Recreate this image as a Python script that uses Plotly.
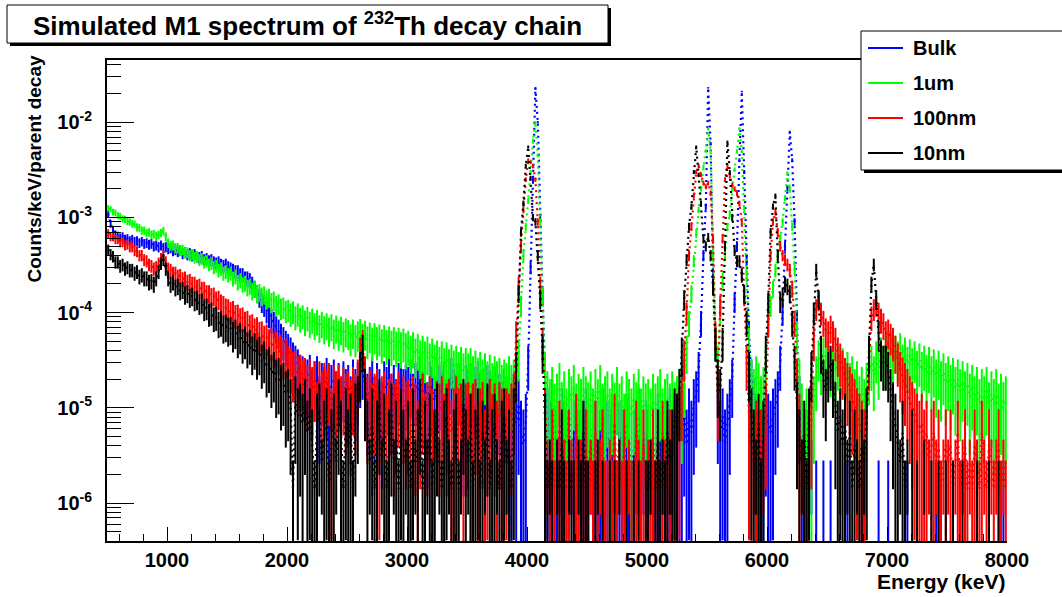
import numpy as np
import plotly.graph_objects as go

# ---------------- data (counts / keV / parent decay), 20 keV bins -------------
E_MIN, E_MAX, BIN_W = 500, 8000, 20
energy = np.arange(E_MIN + BIN_W / 2, E_MAX, BIN_W)   # bin centres, keV

series_names = ["Bulk", "1um", "100nm", "10nm"]
series_colors = ["#0000ff", "#00ff00", "#ff0000", "#000000"]

bulk = [
    1.1e-3, 8.6e-4, 7.4e-4, 6.6e-4, 6.4e-4, 6.1e-4, 6.3e-4, 5.9e-4, 6.0e-4, 5.7e-4, 5.9e-4, 5.6e-4, 5.7e-4, 5.4e-4, 5.6e-4, 5.3e-4, 5.4e-4, 5.2e-4, 5.3e-4, 5.0e-4, 5.1e-4, 4.9e-4, 5.1e-4, 4.8e-4, 4.9e-4,
    4.7e-4, 4.8e-4, 4.5e-4, 4.6e-4, 4.4e-4, 4.5e-4, 4.2e-4, 4.3e-4, 4.1e-4, 4.2e-4, 4.0e-4, 4.1e-4, 3.9e-4, 3.8e-4, 3.9e-4, 3.6e-4, 3.7e-4, 3.5e-4, 3.6e-4, 3.4e-4, 3.3e-4, 3.4e-4, 3.2e-4, 3.1e-4, 3.2e-4,
    3.0e-4, 2.9e-4, 2.8e-4, 2.7e-4, 2.7e-4, 2.5e-4, 2.5e-4, 2.3e-4, 2.3e-4, 2.2e-4, 2.0e-4, 1.8e-4, 1.6e-4, 1.45e-4, 1.3e-4, 1.2e-4, 1.05e-4, 9.5e-5, 8.5e-5, 7.8e-5, 7.0e-5, 6.3e-5, 5.6e-5, 5.1e-5, 4.6e-5,
    4.2e-5, 3.8e-5, 3.3e-5, 3.0e-5, 2.7e-5, 2.3e-5, 2.2e-5, 1.6e-5, 2.0e-5, 2.3e-5, 1.5e-5, 1.9e-5, 2.2e-5, 1.2e-5, 1.8e-5, 1.6e-5, 2.1e-5, 9.6e-6, 1.7e-5, 2.0e-5, 1.4e-5, 1.8e-5, 1.1e-5, 1.9e-5, 1.5e-5,
    1.7e-5, 1.2e-5, 2.0e-5, 1.5e-5, 1.8e-5, 2.3e-5, 2.6e-5, 1.9e-5, 1.3e-5, 1.6e-5, 2.1e-5, 1.2e-5, 1.8e-5, 1.5e-5, 1.0e-5, 1.9e-5, 1.6e-5, 2.1e-5, 1.3e-5, 1.7e-5, 1.1e-5, 1.8e-5, 2.2e-5, 1.5e-5, 1.7e-5,
    1.6e-5, 2.0e-5, 1.3e-5, 1.8e-5, 1.5e-5, 2.2e-5, 1.4e-5, 1.7e-5, 1.0e-5, 1.9e-5, 1.6e-5, 1.2e-5, 2.0e-5, 1.7e-5, 1.4e-5, 1.8e-5, 1.1e-5, 1.6e-5, 2.1e-5, 1.5e-5, 1.3e-5, 1.8e-5, 1.6e-5, 9.6e-6, 1.7e-5,
    1.5e-5, 1.8e-5, 1.2e-5, 1.6e-5, 1.9e-5, 1.3e-5, 1.5e-5, 1.0e-5, 1.7e-5, 1.4e-5, 1.2e-5, 1.6e-5, 1.8e-5, 1.3e-5, 1.0e-5, 1.5e-5, 1.2e-5, 1.4e-5, 8.2e-6, 1.3e-5, 6.9e-6, 1.1e-5, 5.5e-6, 4.1e-6, 6.9e-6,
    3.0e-5, 3.0e-4, 2.5e-3, 2.3e-2, 1.0e-2, 1.0e-3, 1.5e-4, 2.5e-5, 8.2e-6, 5.5e-6, 1.1e-5, 4.1e-6, 6.9e-6, 2.7e-6, 8.2e-6, 5.5e-6, 4.1e-6, 9.6e-6, 2.7e-6, 5.5e-6, 6.9e-6, 4.1e-6, 1.4e-6, 5.5e-6, 8.2e-6,
    4.1e-6, 2.7e-6, 6.9e-6, 5.5e-6, 1.4e-6, 4.1e-6, 8.2e-6, 2.7e-6, 5.5e-6, 4.1e-6, 6.9e-6, 2.7e-6, 1.4e-6, 5.5e-6, 4.1e-6, 2.7e-6, 6.9e-6, 5.5e-6, 1.4e-6, 4.1e-6, 2.7e-6, 8.2e-6, 4.1e-6, 2.7e-6, 5.5e-6,
    4.1e-6, 2.7e-6, 5.5e-6, 1.4e-6, 6.9e-6, 4.1e-6, 2.7e-6, 5.5e-6, 4.1e-6, 8.2e-6, 2.7e-6, 5.5e-6, 4.1e-6, 6.9e-6, 5.5e-6, 9.6e-6, 4.1e-6, 8.2e-6, 5.5e-6, 1.1e-5, 1.4e-5, 2.5e-5, 8.0e-5, 4.0e-4, 1.3e-3,
    2.3e-2, 6.0e-3, 2.5e-4, 5.0e-5, 1.2e-5, 5.5e-6, 8.2e-6, 4.1e-6, 6.9e-6, 1.1e-5, 2.0e-5, 1.3e-4, 5.0e-4, 4.0e-3, 2.1e-2, 3.0e-3, 3.6e-4, 6.0e-5, 2.0e-5, 1.1e-5, 6.9e-6, 4.1e-6, 8.2e-6, 5.5e-6, 9.6e-6,
    6.9e-6, 5.5e-6, 8.2e-6, 1.1e-5, 1.4e-5, 3.0e-5, 1.0e-4, 5.0e-4, 2.0e-3, 7.9e-3, 4.0e-3, 9.0e-4, 8.0e-5, 1.2e-5, 5.5e-6, 2.7e-6, 4.1e-6, 1.4e-6, 2.7e-6, 0, 1.4e-6, 0, 0, 1.4e-6, 0,
    0, 1.4e-6, 0, 0, 0, 2.7e-6, 0, 0, 1.4e-6, 0, 0, 0, 0, 0, 0, 1.4e-6, 0, 0, 0, 0, 0, 1.4e-6, 0, 0, 0,
    1.4e-6, 0, 0, 0, 0, 0, 0, 0, 1.4e-6, 0, 0, 0, 0, 0, 0, 0, 0, 0, 0, 0, 1.4e-6, 0, 0, 0, 0,
    0, 0, 0, 0, 0, 1.4e-6, 0, 0, 0, 0, 0, 0, 1.4e-6, 0, 0, 0, 0, 0, 0, 0, 0, 0, 0, 1.4e-6, 0,
]

um1 = [
    1.25e-3, 1.22e-3, 1.14e-3, 1.12e-3, 1.05e-3, 1.03e-3, 9.7e-4, 9.6e-4, 9.1e-4, 9.0e-4, 8.6e-4, 8.5e-4, 7.9e-4, 7.8e-4, 7.3e-4, 7.3e-4, 6.9e-4, 7.0e-4, 6.6e-4, 6.7e-4, 6.4e-4, 6.6e-4, 6.9e-4, 7.2e-4, 6.3e-4,
    5.4e-4, 5.1e-4, 5.1e-4, 4.8e-4, 4.8e-4, 4.5e-4, 4.6e-4, 4.3e-4, 4.3e-4, 4.0e-4, 4.1e-4, 3.8e-4, 3.9e-4, 3.6e-4, 3.7e-4, 3.4e-4, 3.5e-4, 3.2e-4, 3.3e-4, 3.0e-4, 3.1e-4, 2.8e-4, 2.9e-4, 2.6e-4, 2.7e-4,
    2.5e-4, 2.6e-4, 2.3e-4, 2.4e-4, 2.1e-4, 2.2e-4, 2.0e-4, 2.05e-4, 1.85e-4, 1.9e-4, 1.7e-4, 1.8e-4, 1.6e-4, 1.65e-4, 1.5e-4, 1.55e-4, 1.4e-4, 1.45e-4, 1.3e-4, 1.35e-4, 1.2e-4, 1.25e-4, 1.12e-4, 1.15e-4, 1.05e-4,
    1.08e-4, 9.8e-5, 1.03e-4, 9.1e-5, 9.8e-5, 8.7e-5, 9.3e-5, 8.1e-5, 8.9e-5, 7.8e-5, 8.5e-5, 7.5e-5, 8.2e-5, 7.1e-5, 7.8e-5, 6.9e-5, 7.5e-5, 6.6e-5, 7.3e-5, 6.3e-5, 7.0e-5, 6.1e-5, 6.8e-5, 5.9e-5, 6.5e-5,
    6.2e-5, 5.5e-5, 6.3e-5, 5.4e-5, 6.0e-5, 6.4e-5, 5.6e-5, 6.1e-5, 5.2e-5, 5.8e-5, 5.0e-5, 5.7e-5, 5.1e-5, 5.5e-5, 4.8e-5, 5.4e-5, 4.7e-5, 5.2e-5, 4.6e-5, 5.1e-5, 4.5e-5, 5.0e-5, 4.4e-5, 4.9e-5, 4.3e-5,
    4.6e-5, 4.0e-5, 4.4e-5, 3.7e-5, 4.2e-5, 3.5e-5, 4.0e-5, 3.4e-5, 3.9e-5, 3.2e-5, 3.7e-5, 3.1e-5, 3.5e-5, 2.9e-5, 3.4e-5, 2.8e-5, 3.3e-5, 2.7e-5, 3.1e-5, 2.6e-5, 3.0e-5, 2.5e-5, 2.9e-5, 2.4e-5, 2.8e-5,
    2.4e-5, 2.8e-5, 2.2e-5, 2.6e-5, 2.1e-5, 2.5e-5, 2.0e-5, 2.4e-5, 1.9e-5, 2.3e-5, 1.8e-5, 2.2e-5, 1.9e-5, 2.1e-5, 1.7e-5, 2.0e-5, 1.8e-5, 2.2e-5, 1.7e-5, 2.0e-5, 2.5e-5, 3.5e-5, 1.2e-4, 4.0e-4, 8.0e-4,
    1.5e-3, 3.0e-3, 6.5e-3, 1.0e-2, 4.5e-3, 9.0e-4, 1.5e-4, 2.5e-5, 1.4e-5, 1.1e-5, 1.6e-5, 9.6e-6, 1.3e-5, 1.8e-5, 1.0e-5, 1.4e-5, 8.2e-6, 1.5e-5, 1.2e-5, 1.7e-5, 9.6e-6, 1.3e-5, 1.1e-5, 1.6e-5, 1.2e-5,
    1.0e-5, 1.4e-5, 8.2e-6, 1.5e-5, 1.1e-5, 1.7e-5, 9.6e-6, 1.2e-5, 1.4e-5, 8.2e-6, 1.3e-5, 1.0e-5, 1.6e-5, 9.6e-6, 1.2e-5, 6.9e-6, 1.4e-5, 1.1e-5, 8.2e-6, 1.3e-5, 1.0e-5, 1.5e-5, 8.2e-6, 1.2e-5, 9.6e-6,
    1.1e-5, 8.2e-6, 1.3e-5, 9.6e-6, 1.2e-5, 1.5e-5, 8.2e-6, 1.1e-5, 1.3e-5, 9.6e-6, 1.4e-5, 1.0e-5, 1.2e-5, 1.5e-5, 1.2e-5, 2.0e-5, 4.0e-5, 8.0e-5, 1.6e-4, 3.5e-4, 6.8e-4, 1.2e-3, 2.0e-3, 3.4e-3, 5.0e-3,
    8.6e-3, 5.0e-3, 4.0e-4, 5.0e-5, 3.0e-5, 1.0e-4, 2.2e-4, 4.0e-4, 8.0e-4, 1.1e-3, 2.0e-3, 3.2e-3, 5.0e-3, 8.6e-3, 5.0e-3, 1.2e-3, 2.5e-4, 5.0e-5, 2.0e-5, 1.5e-5, 2.2e-5, 1.8e-5, 1.2e-5, 1.6e-5, 3.0e-5,
    8.0e-5, 1.2e-4, 1.8e-4, 2.8e-4, 4.0e-4, 6.0e-4, 9.0e-4, 1.6e-3, 2.9e-3, 2.0e-3, 8.0e-4, 3.0e-4, 6.0e-5, 2.0e-5, 9.6e-6, 5.5e-6, 8.2e-6, 4.1e-6, 6.9e-6, 1.2e-5, 2.2e-5, 3.5e-5, 2.8e-5, 3.8e-5, 3.0e-5,
    3.5e-5, 2.7e-5, 3.2e-5, 2.4e-5, 3.0e-5, 2.2e-5, 2.8e-5, 2.0e-5, 2.5e-5, 1.8e-5, 2.2e-5, 1.5e-5, 1.9e-5, 1.2e-5, 1.6e-5, 1.1e-5, 1.8e-5, 2.4e-5, 3.0e-5, 2.2e-5, 3.4e-5, 2.6e-5, 3.8e-5, 3.0e-5, 4.2e-5,
    3.5e-5, 4.4e-5, 3.2e-5, 4.0e-5, 3.4e-5, 4.3e-5, 3.1e-5, 3.8e-5, 2.9e-5, 3.6e-5, 2.8e-5, 3.4e-5, 2.6e-5, 3.2e-5, 2.5e-5, 3.0e-5, 2.3e-5, 2.9e-5, 2.2e-5, 2.7e-5, 2.0e-5, 2.6e-5, 1.9e-5, 2.4e-5, 1.8e-5,
    2.2e-5, 1.7e-5, 2.1e-5, 1.6e-5, 2.0e-5, 1.5e-5, 1.9e-5, 1.4e-5, 1.8e-5, 1.3e-5, 1.7e-5, 1.2e-5, 1.6e-5, 1.1e-5, 1.5e-5, 1.2e-5, 1.6e-5, 1.0e-5, 1.4e-5, 1.1e-5, 1.5e-5, 9.6e-6, 1.3e-5, 1.0e-5, 1.2e-5,
]

nm100 = [
    6.8e-4, 6.3e-4, 6.3e-4, 5.9e-4, 5.9e-4, 5.5e-4, 5.5e-4, 5.1e-4, 5.2e-4, 4.9e-4, 4.9e-4, 4.5e-4, 4.4e-4, 4.0e-4, 4.0e-4, 3.6e-4, 3.5e-4, 3.2e-4, 3.1e-4, 2.9e-4, 3.0e-4, 3.3e-4, 3.7e-4, 4.0e-4, 3.4e-4,
    2.9e-4, 2.8e-4, 2.6e-4, 2.6e-4, 2.4e-4, 2.45e-4, 2.25e-4, 2.3e-4, 2.1e-4, 2.15e-4, 2.0e-4, 2.0e-4, 1.85e-4, 1.9e-4, 1.75e-4, 1.75e-4, 1.6e-4, 1.6e-4, 1.48e-4, 1.5e-4, 1.35e-4, 1.38e-4, 1.25e-4, 1.2e-4, 1.12e-4,
    1.1e-4, 1.02e-4, 1.05e-4, 9.4e-5, 9.5e-5, 8.6e-5, 8.8e-5, 7.8e-5, 8.0e-5, 7.1e-5, 7.3e-5, 6.5e-5, 6.7e-5, 5.9e-5, 6.0e-5, 5.3e-5, 5.5e-5, 4.8e-5, 5.0e-5, 4.4e-5, 4.5e-5, 3.9e-5, 4.1e-5, 3.6e-5, 3.7e-5,
    3.0e-5, 2.9e-5, 2.5e-5, 2.6e-5, 2.2e-5, 2.3e-5, 2.0e-5, 2.1e-5, 1.7e-5, 2.0e-5, 1.6e-5, 1.9e-5, 1.0e-5, 1.9e-5, 1.4e-5, 1.8e-5, 1.5e-5, 1.8e-5, 8.2e-6, 1.7e-5, 1.4e-5, 1.7e-5, 1.2e-5, 1.6e-5, 1.3e-5,
    1.4e-5, 1.1e-5, 1.6e-5, 1.3e-5, 2.0e-5, 3.8e-5, 4.7e-5, 2.2e-5, 1.2e-5, 1.5e-5, 9.6e-6, 1.3e-5, 1.5e-5, 8.2e-6, 1.2e-5, 1.4e-5, 6.9e-6, 1.1e-5, 1.3e-5, 9.6e-6, 1.1e-5, 1.4e-5, 8.2e-6, 1.2e-5, 1.0e-5,
    1.1e-5, 8.2e-6, 1.2e-5, 9.6e-6, 5.5e-6, 1.0e-5, 1.3e-5, 6.9e-6, 9.6e-6, 1.2e-5, 8.2e-6, 4.1e-6, 1.0e-5, 9.6e-6, 1.2e-5, 6.9e-6, 9.6e-6, 1.1e-5, 5.5e-6, 8.2e-6, 1.2e-5, 8.2e-6, 9.6e-6, 4.1e-6, 9.6e-6,
    1.0e-5, 6.9e-6, 9.6e-6, 1.1e-5, 5.5e-6, 8.2e-6, 1.0e-5, 4.1e-6, 8.2e-6, 1.1e-5, 6.9e-6, 9.6e-6, 5.5e-6, 1.0e-5, 8.2e-6, 4.1e-6, 8.2e-6, 6.9e-6, 9.6e-6, 1.3e-5, 6.0e-5, 2.0e-4, 5.0e-4, 1.2e-3, 2.5e-3,
    4.0e-3, 3.8e-3, 3.5e-3, 2.5e-3, 9.0e-4, 2.0e-4, 5.0e-5, 8.2e-6, 2.7e-6, 1.4e-6, 4.1e-6, 1.4e-6, 2.7e-6, 5.5e-6, 1.4e-6, 2.7e-6, 1.4e-6, 4.1e-6, 2.7e-6, 1.4e-6, 6.9e-6, 1.4e-6, 2.7e-6, 1.4e-6, 4.1e-6,
    1.4e-6, 2.7e-6, 1.4e-6, 5.5e-6, 1.4e-6, 2.7e-6, 4.1e-6, 1.4e-6, 1.4e-6, 2.7e-6, 1.4e-6, 6.9e-6, 1.4e-6, 2.7e-6, 1.4e-6, 4.1e-6, 1.4e-6, 2.7e-6, 1.4e-6, 1.4e-6, 5.5e-6, 2.7e-6, 1.4e-6, 4.1e-6, 1.4e-6,
    2.7e-6, 1.4e-6, 4.1e-6, 1.4e-6, 2.7e-6, 1.4e-6, 5.5e-6, 2.7e-6, 1.4e-6, 4.1e-6, 2.7e-6, 6.9e-6, 4.1e-6, 8.2e-6, 1.5e-5, 3.5e-5, 1.0e-4, 4.0e-4, 8.0e-4, 1.7e-3, 3.0e-3, 3.5e-3, 2.8e-3, 2.3e-3, 2.1e-3,
    2.3e-3, 1.8e-3, 6.0e-4, 6.0e-5, 1.5e-5, 1.2e-4, 6.0e-4, 2.5e-3, 3.5e-3, 2.7e-3, 2.2e-3, 2.0e-3, 1.8e-3, 1.4e-3, 9.0e-4, 1.5e-4, 3.0e-5, 8.2e-6, 4.1e-6, 2.7e-6, 5.5e-6, 1.4e-6, 4.1e-6, 2.7e-6, 1.0e-5,
    8.0e-5, 4.0e-4, 9.0e-4, 1.15e-3, 7.0e-4, 5.0e-4, 4.0e-4, 3.6e-4, 3.2e-4, 2.8e-4, 1.8e-4, 8.0e-5, 2.0e-5, 6.9e-6, 2.7e-6, 4.1e-6, 1.4e-6, 5.5e-6, 1.0e-5, 5.0e-5, 1.1e-4, 1.35e-4, 1.0e-4, 8.0e-5, 6.5e-5,
    6.0e-5, 7.0e-5, 6.0e-5, 5.0e-5, 3.8e-5, 3.2e-5, 2.6e-5, 2.1e-5, 1.8e-5, 1.6e-5, 1.3e-5, 1.1e-5, 8.2e-6, 6.9e-6, 5.5e-6, 4.1e-6, 8.2e-6, 3.0e-5, 9.0e-5, 1.1e-4, 1.2e-4, 1.0e-4, 8.5e-5, 7.5e-5, 6.0e-5,
    6.3e-5, 5.6e-5, 5.0e-5, 4.0e-5, 3.2e-5, 2.5e-5, 2.1e-5, 1.8e-5, 1.5e-5, 1.2e-5, 1.0e-5, 8.2e-6, 6.9e-6, 5.5e-6, 6.9e-6, 4.1e-6, 5.5e-6, 2.7e-6, 4.1e-6, 5.5e-6, 2.7e-6, 4.1e-6, 1.4e-6, 2.7e-6, 4.1e-6,
    2.7e-6, 4.1e-6, 1.4e-6, 2.7e-6, 5.5e-6, 1.4e-6, 2.7e-6, 4.1e-6, 1.4e-6, 2.7e-6, 1.4e-6, 4.1e-6, 2.7e-6, 1.4e-6, 5.5e-6, 2.7e-6, 1.4e-6, 4.1e-6, 2.7e-6, 1.4e-6, 2.7e-6, 4.1e-6, 1.4e-6, 2.7e-6, 1.4e-6,
]

nm10 = [
    4.6e-4, 4.1e-4, 3.9e-4, 3.4e-4, 3.4e-4, 3.1e-4, 3.2e-4, 2.9e-4, 3.0e-4, 2.8e-4, 2.8e-4, 2.6e-4, 2.7e-4, 2.4e-4, 2.5e-4, 2.3e-4, 2.3e-4, 2.1e-4, 2.15e-4, 2.0e-4, 2.3e-4, 2.7e-4, 3.3e-4, 3.6e-4, 2.9e-4,
    2.3e-4, 2.0e-4, 2.1e-4, 1.85e-4, 1.9e-4, 1.7e-4, 1.75e-4, 1.55e-4, 1.6e-4, 1.45e-4, 1.5e-4, 1.35e-4, 1.38e-4, 1.25e-4, 1.28e-4, 1.1e-4, 1.12e-4, 9.8e-5, 1.0e-4, 8.8e-5, 9.0e-5, 7.8e-5, 8.0e-5, 7.0e-5, 7.2e-5,
    6.6e-5, 6.8e-5, 5.9e-5, 6.3e-5, 5.3e-5, 5.7e-5, 4.8e-5, 5.2e-5, 4.4e-5, 4.7e-5, 3.9e-5, 4.3e-5, 3.6e-5, 3.9e-5, 3.1e-5, 3.4e-5, 2.7e-5, 2.9e-5, 2.3e-5, 2.5e-5, 2.0e-5, 2.1e-5, 1.7e-5, 1.8e-5, 1.4e-5,
    1.5e-5, 1.1e-5, 1.4e-6, 1.2e-5, 8.2e-6, 9.6e-6, 6.9e-6, 1.1e-5, 5.5e-6, 8.2e-6, 4.1e-6, 1.4e-6, 6.9e-6, 9.6e-6, 2.7e-6, 5.5e-6, 8.2e-6, 1.4e-6, 4.1e-6, 6.9e-6, 2.7e-6, 1.1e-5, 5.5e-6, 1.4e-6, 8.2e-6,
    4.1e-6, 6.9e-6, 1.4e-6, 9.6e-6, 1.2e-5, 2.5e-5, 4.1e-5, 1.5e-5, 5.5e-6, 2.7e-6, 8.2e-6, 1.4e-6, 5.5e-6, 1.1e-5, 2.7e-6, 6.9e-6, 1.4e-6, 4.1e-6, 9.6e-6, 2.7e-6, 5.5e-6, 1.4e-6, 8.2e-6, 4.1e-6, 2.7e-6,
    5.5e-6, 1.4e-6, 8.2e-6, 2.7e-6, 4.1e-6, 1.1e-5, 1.4e-6, 5.5e-6, 2.7e-6, 6.9e-6, 1.4e-6, 4.1e-6, 9.6e-6, 2.7e-6, 1.4e-6, 5.5e-6, 8.2e-6, 2.7e-6, 1.4e-6, 4.1e-6, 6.9e-6, 1.4e-6, 2.7e-6, 1.1e-5, 4.1e-6,
    2.7e-6, 6.9e-6, 1.4e-6, 4.1e-6, 8.2e-6, 1.4e-6, 5.5e-6, 2.7e-6, 9.6e-6, 1.4e-6, 4.1e-6, 6.9e-6, 2.7e-6, 1.4e-6, 5.5e-6, 8.2e-6, 2.7e-6, 4.1e-6, 1.4e-6, 8.2e-6, 2.5e-5, 1.6e-4, 7.0e-4, 1.4e-3, 3.5e-3,
    5.5e-3, 2.6e-3, 1.0e-3, 9.0e-4, 4.0e-4, 1.4e-4, 4.0e-5, 6.9e-6, 1.4e-6, 2.7e-6, 1.4e-6, 0, 2.7e-6, 1.4e-6, 4.1e-6, 1.4e-6, 0, 2.7e-6, 1.4e-6, 1.4e-6, 0, 2.7e-6, 1.4e-6, 5.5e-6, 1.4e-6,
    1.4e-6, 0, 0, 1.4e-6, 2.7e-6, 0, 1.4e-6, 0, 0, 1.4e-6, 0, 1.4e-6, 0, 2.7e-6, 0, 0, 1.4e-6, 0, 0, 1.4e-6, 0, 1.4e-6, 0, 0, 1.4e-6,
    1.4e-6, 2.7e-6, 0, 1.4e-6, 4.1e-6, 1.4e-6, 2.7e-6, 1.4e-6, 5.5e-6, 2.7e-6, 4.1e-6, 8.2e-6, 6.9e-6, 1.5e-5, 3.8e-5, 1.4e-4, 3.6e-4, 8.0e-4, 1.3e-3, 3.0e-3, 5.5e-3, 2.8e-3, 1.4e-3, 6.0e-4, 5.0e-4,
    6.2e-4, 4.0e-4, 1.9e-4, 5.0e-5, 2.0e-5, 1.5e-5, 5.0e-5, 5.0e-4, 6.2e-3, 3.0e-3, 1.0e-3, 4.5e-4, 3.5e-4, 3.5e-4, 2.5e-4, 1.6e-4, 8.0e-5, 2.5e-5, 8.2e-6, 4.1e-6, 2.7e-6, 6.9e-6, 1.4e-6, 5.5e-6, 4.0e-5,
    1.3e-4, 7.0e-4, 1.3e-3, 1.67e-3, 4.0e-4, 1.3e-4, 1.5e-4, 2.0e-4, 1.9e-4, 1.6e-4, 8.0e-5, 3.0e-5, 1.0e-5, 4.1e-6, 2.7e-6, 5.5e-6, 1.4e-6, 8.2e-6, 2.5e-5, 1.0e-4, 2.8e-4, 1.4e-4, 4.0e-5, 2.0e-5, 1.5e-5,
    2.5e-5, 3.0e-5, 2.0e-5, 1.0e-5, 5.5e-6, 8.2e-6, 4.1e-6, 6.9e-6, 2.7e-6, 5.5e-6, 1.4e-6, 4.1e-6, 2.7e-6, 1.4e-6, 4.1e-6, 2.7e-6, 8.2e-6, 4.0e-5, 2.0e-4, 3.2e-4, 1.4e-4, 6.0e-5, 3.5e-5, 3.0e-5, 3.0e-5,
    2.5e-5, 1.5e-5, 1.0e-5, 6.9e-6, 4.1e-6, 2.7e-6, 5.5e-6, 1.4e-6, 2.7e-6, 0, 4.1e-6, 0, 1.4e-6, 0, 0, 2.7e-6, 0, 0, 1.4e-6, 0, 0, 1.4e-6, 0, 0, 1.4e-6,
    0, 0, 1.4e-6, 0, 0, 0, 1.4e-6, 0, 0, 0, 0, 0, 1.4e-6, 0, 0, 0, 0, 1.4e-6, 0, 0, 0, 1.4e-6, 0, 0, 0,
]

series_values = [bulk, um1, nm100, nm10]
ONE_COUNT = 1.4e-6      # value of a single count in one bin
SPREAD = 2.3            # visual spread of the fine-binned histogram around each 20 keV value

x_ticks = [1000, 2000, 3000, 4000, 5000, 6000, 7000, 8000]
y_ticks = [1e-6, 1e-5, 1e-4, 1e-3, 1e-2]
y_tick_text = ["10<sup>-6</sup>", "10<sup>-5</sup>", "10<sup>-4</sup>", "10<sup>-3</sup>", "10<sup>-2</sup>"]

# ---------------- geometry helpers (pixel -> paper) ---------------------------
W, H = 1062, 597
L, R, T, B = 107, 1007, 60, 541
def px(x):
    return (x - L) / (R - L)
def py(y):
    return (B - y) / (B - T)

FONT = "Liberation Sans, Arial, Helvetica, sans-serif"

fig = go.Figure()
for name, color, vals in zip(series_names, series_colors, series_values):
    assert len(vals) == len(energy), (name, len(vals))
    xs, ys = [], []
    for e, v in zip(energy, vals):
        if v <= 0:
            continue
        k = 1.0 if v < 2.5 * ONE_COUNT else SPREAD
        err = k * (v * ONE_COUNT) ** 0.5
        lo = v - err
        if lo <= 1e-9:
            lo = 1e-9
        xs += [e, e, None]
        ys += [lo, v + err, None]
    fig.add_trace(go.Scatter(x=xs, y=ys, mode="lines", line=dict(color=color, width=2.0),
                             hoverinfo="skip", showlegend=False))
    fig.add_trace(go.Scatter(x=energy, y=[v if v > 0 else None for v in vals], mode="lines",
                             line=dict(color=color, width=2.2, dash="2px,4px"),
                             name=name, showlegend=False))

minor_x = [v for v in range(600, 8000, 200) if v % 1000 != 0]
minor_y = [m * 10.0 ** d for d in range(-7, -1) for m in range(2, 10)]

fig.update_layout(
    width=W, height=H,
    margin=dict(l=L, r=W - R, t=T, b=H - B),
    paper_bgcolor="white", plot_bgcolor="white",
    showlegend=False,
    font=dict(family=FONT, color="black"),
)
fig.update_xaxes(
    range=[E_MIN, E_MAX], showgrid=False, zeroline=False,
    showline=True, linecolor="black", linewidth=2, mirror=True,
    ticks="inside", ticklen=14, tickwidth=1, tickcolor="black",
    tickmode="array", tickvals=x_ticks, ticktext=[str(v) for v in x_ticks],
    tickfont=dict(family=FONT, size=20, weight="bold", color="black"),
    minor=dict(ticks="inside", ticklen=7, tickwidth=1, tickcolor="black", tickvals=minor_x),
)
fig.update_yaxes(
    type="log", range=[-6.399, -1.346], showgrid=False, zeroline=False,
    showline=True, linecolor="black", linewidth=2, mirror=False,
    ticks="inside", ticklen=27, tickwidth=1, tickcolor="black",
    tickmode="array", tickvals=y_ticks, ticktext=y_tick_text,
    tickfont=dict(family=FONT, size=20, weight="bold", color="black"),
    ticklabelstandoff=9,
    minor=dict(ticks="inside", ticklen=14, tickwidth=1, tickcolor="black", tickvals=minor_y),
)

shapes = []
annotations = []

# title box with shadow
shapes.append(dict(type="rect", xref="paper", yref="paper", x0=px(10), x1=px(611), y0=py(46), y1=py(8),
                   fillcolor="black", line=dict(width=0), layer="above"))
shapes.append(dict(type="rect", xref="paper", yref="paper", x0=px(7), x1=px(608), y0=py(43), y1=py(5),
                   fillcolor="white", line=dict(color="black", width=1), layer="above"))
annotations.append(dict(text="<b>Simulated M1 spectrum of <sup>232</sup>Th decay chain</b>",
                        xref="paper", yref="paper", x=px(307), y=py(24), xanchor="center", yanchor="middle",
                        showarrow=False, font=dict(family=FONT, size=26, color="black")))

# legend box with shadow
shapes.append(dict(type="rect", xref="paper", yref="paper", x0=px(864), x1=px(1080), y0=py(173), y1=py(34),
                   fillcolor="black", line=dict(width=0), layer="above"))
shapes.append(dict(type="rect", xref="paper", yref="paper", x0=px(861), x1=px(1075), y0=py(170), y1=py(31),
                   fillcolor="white", line=dict(color="black", width=1), layer="above"))
legend_y = [48, 83, 118, 153]
for name, color, ly in zip(series_names, series_colors, legend_y):
    shapes.append(dict(type="line", xref="paper", yref="paper", x0=px(868), x1=px(903), y0=py(ly), y1=py(ly),
                       line=dict(color=color, width=2), layer="above"))
    annotations.append(dict(text="<b>%s</b>" % name, xref="paper", yref="paper", x=px(911), y=py(ly),
                            xanchor="left", yanchor="middle", showarrow=False,
                            font=dict(family=FONT, size=20, color="black")))

# axis titles
annotations.append(dict(text="<b>Energy (keV)</b>", xref="paper", yref="paper", x=px(1007), y=py(581),
                        xanchor="right", yanchor="middle", showarrow=False,
                        font=dict(family=FONT, size=21, color="black")))
annotations.append(dict(text="<b>Counts/keV/parent decay</b>", xref="paper", yref="paper", x=px(34), y=py(54),
                        xanchor="center", yanchor="top", textangle=-90, showarrow=False,
                        font=dict(family=FONT, size=19, color="black")))

fig.update_layout(shapes=shapes, annotations=annotations)
fig.write_html("out.html", config={"displayModeBar": False},
               post_script="document.body.style.margin='0px';")
